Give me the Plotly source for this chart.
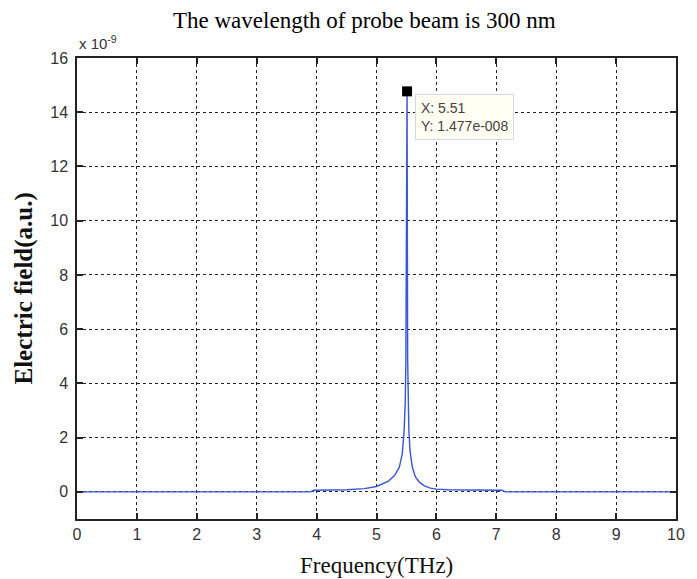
import plotly.graph_objects as go

# Frequency (THz)
freq = [0.0, 3.9, 3.95, 4.5, 4.8, 5.0, 5.2, 5.3, 5.38, 5.43, 5.46, 5.48, 5.49,
        5.50, 5.51, 5.52, 5.53, 5.54, 5.56, 5.60, 5.65, 5.72, 5.80, 5.90, 6.0,
        6.2, 7.1, 7.15, 10.0]
# Electric field (a.u.), in units of 1e-9
field_e9 = [0.0, 0.0, 0.06, 0.08, 0.12, 0.2, 0.4, 0.6, 0.9, 1.4, 2.2, 3.3, 4.8,
            11.9, 14.77, 4.9, 3.2, 2.3, 1.5, 0.9, 0.55, 0.35, 0.22, 0.14, 0.1,
            0.08, 0.06, 0.0, 0.0]

tip_x = 5.51
tip_y = 14.77
tip_label = "X: 5.51<br>Y: 1.477e-008"

x_ticks = list(range(0, 11))
y_ticks = list(range(0, 17, 2))

fig = go.Figure()
fig.add_trace(go.Scatter(x=freq, y=field_e9, mode="lines",
                         line=dict(color="#3a55d8", width=1.4),
                         hoverinfo="skip", showlegend=False))
fig.add_trace(go.Scatter(x=[tip_x], y=[tip_y], mode="markers",
                         marker=dict(symbol="square", size=10, color="black"),
                         hoverinfo="skip", showlegend=False))

sans = "Liberation Sans, Arial, sans-serif"
tick_font = dict(family=sans, size=16, color="#333")
serif = "Liberation Serif, Times New Roman, serif"

axis_common = dict(
    showline=True, linecolor="#222", linewidth=1.5, mirror="ticks",
    ticks="inside", ticklen=6, tickwidth=1.5, tickcolor="#222",
    showgrid=True, gridcolor="#222", gridwidth=1.3, griddash="3px,3px",
    zeroline=False, tickfont=tick_font,
)

fig.update_xaxes(range=[0, 10], tickvals=x_ticks, **axis_common)
fig.update_yaxes(range=[-1, 16], tickvals=y_ticks, ticklabelstandoff=4, **axis_common)

fig.update_layout(
    width=697, height=579,
    margin=dict(l=77, r=12, t=58, b=60),
    paper_bgcolor="white", plot_bgcolor="white",
    annotations=[
        dict(text="The wavelength of probe beam is 300 nm", xref="paper", yref="paper",
             x=0.48, y=1, yshift=38, xanchor="center", yanchor="middle",
             showarrow=False, font=dict(family=serif, size=23, color="black")),
        dict(text="x 10<sup>-9</sup>", xref="paper", yref="paper", x=0, y=1,
             xanchor="left", yanchor="bottom", yshift=4, showarrow=False,
             font=dict(family=sans, size=15, color="#333")),
        dict(text="<b>Electric field(a.u.)</b>", xref="paper", yref="paper",
             x=0, y=0.5, xshift=-54, textangle=-90, xanchor="center", yanchor="middle",
             showarrow=False, font=dict(family=serif, size=25, color="#111")),
        dict(text="Frequency(THz)", xref="paper", yref="paper", x=0.5, y=0,
             yshift=-46, xanchor="center", yanchor="middle", showarrow=False,
             font=dict(family=serif, size=23, color="#111")),
        dict(text=tip_label, xref="x", yref="y", x=tip_x, y=tip_y,
             xanchor="left", yanchor="top", xshift=8, yshift=-3, align="left",
             showarrow=False, bgcolor="#fffff4", bordercolor="#d8d8d8",
             borderwidth=1, borderpad=5,
             font=dict(family=sans, size=14, color="#4a4040")),
    ],
)

fig.write_html("out.html")
